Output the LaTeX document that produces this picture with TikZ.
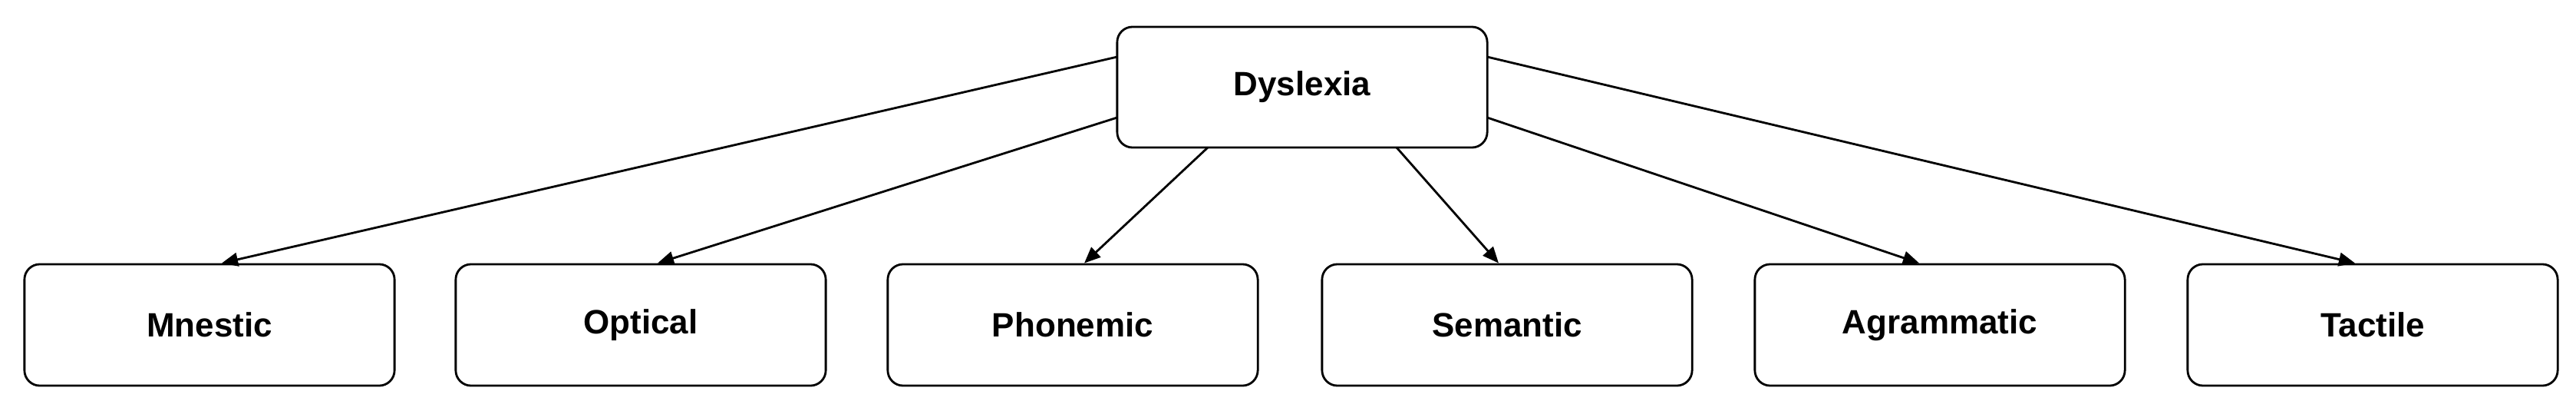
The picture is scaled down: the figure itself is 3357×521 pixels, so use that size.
\documentclass[tikz,border=0pt]{standalone}
\usepackage{fontspec}
\setmainfont{Liberation Sans}
\usetikzlibrary{arrows.meta}
\begin{document}
\begin{tikzpicture}[x=0.01cm,y=-0.01cm,
  box/.style={draw,rounded corners=0.2cm,line width=0.8pt,inner sep=0pt,font=\fontsize{12.5}{15}\selectfont\bfseries},
  arr/.style={line width=0.8pt,-{Triangle[length=6pt,width=5pt]}}]
\useasboundingbox (0,0) rectangle (3357,521);
\node[box,minimum width=4.82cm,minimum height=1.57cm] (d) at (1697,113.5) {Dyslexia};
\foreach \n/\t/\x in {m/Mnestic/273,o/Optical/835,p/Phonemic/1398,s/Semantic/1964,a/Agrammatic/2528,t/Tactile/3092}{
  \node[box,minimum width=4.82cm,minimum height=1.58cm] (\n) at (\x,423) {\t};
}
\coordinate (d1) at (1456,74);
\coordinate (d2) at (1456,153);
\coordinate (d3) at (1574,192);
\coordinate (d4) at (1820,192);
\coordinate (d5) at (1938,153);
\coordinate (d6) at (1938,74);
\draw[arr] (d1) -- (m.north -| 289,0);
\draw[arr] (d2) -- (o.north -| 857,0);
\draw[arr] (d3) -- (p.north -| 1413,0);
\draw[arr] (d4) -- (s.north -| 1953,0);
\draw[arr] (d5) -- (a.north -| 2501,0);
\draw[arr] (d6) -- (t.north -| 3069,0);
\end{tikzpicture}
\end{document}
